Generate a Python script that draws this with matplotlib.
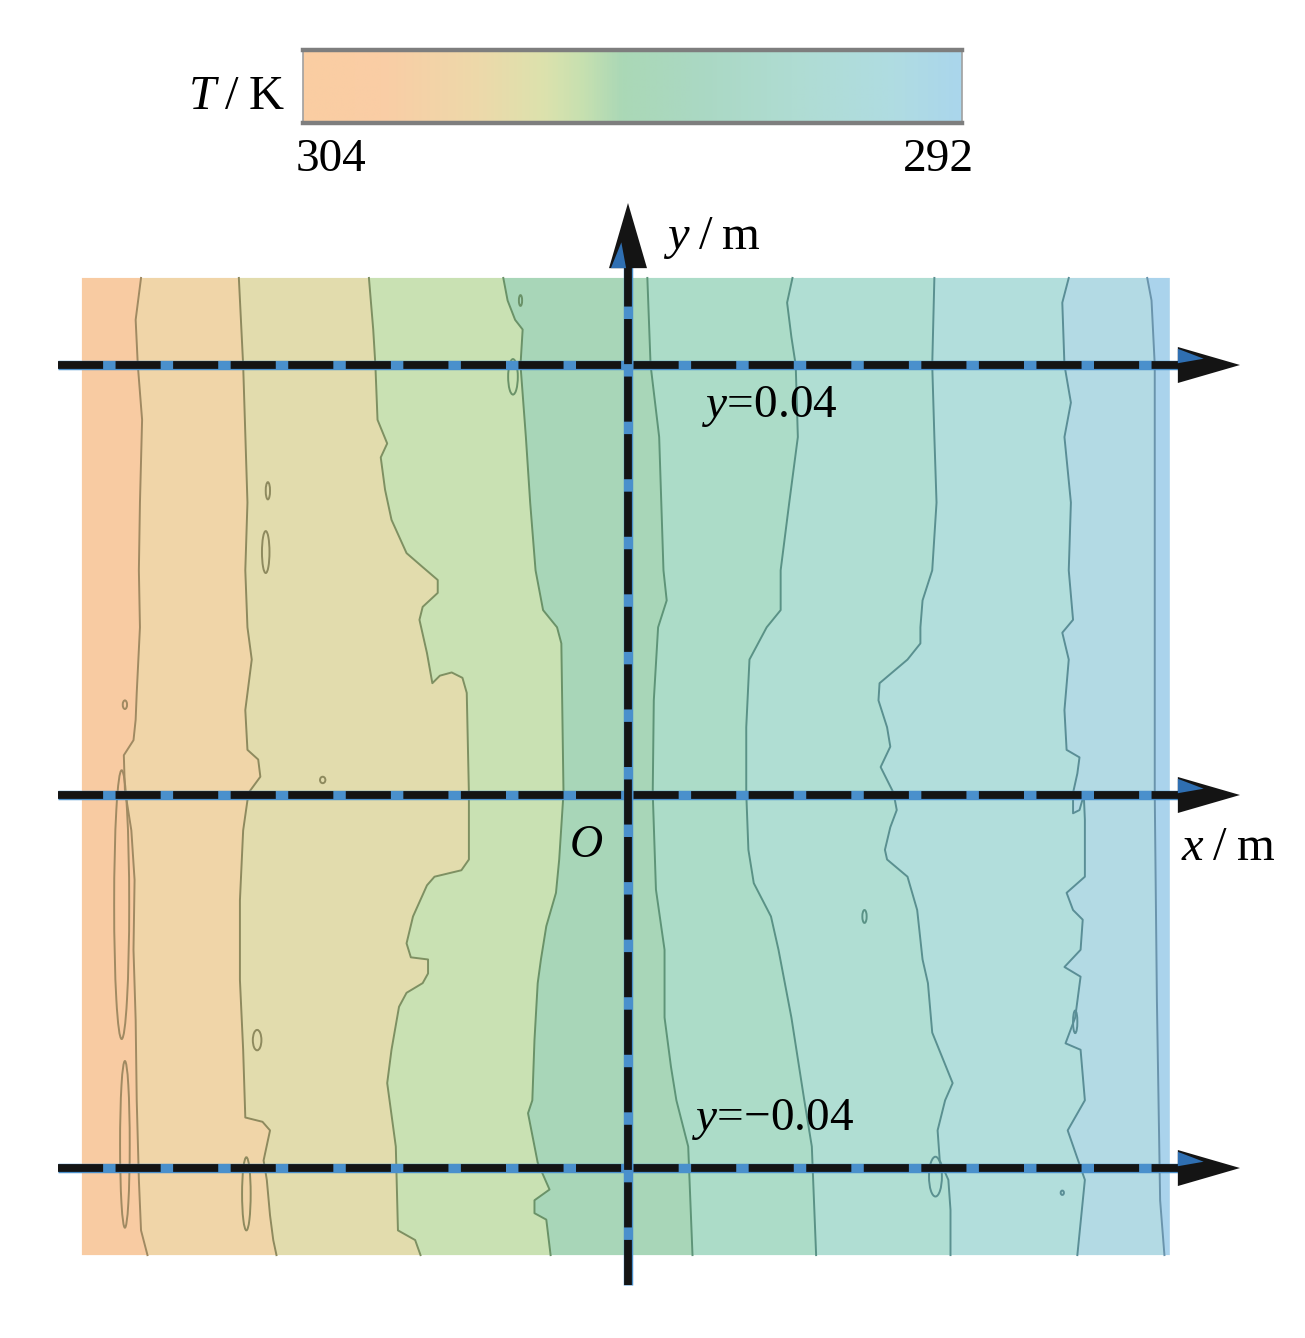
import numpy as np
import matplotlib
matplotlib.use("Agg")
import matplotlib.pyplot as plt
from matplotlib.colors import LinearSegmentedColormap, Normalize
from matplotlib.patches import Ellipse

plt.rcParams['font.family'] = ['Liberation Serif', 'DejaVu Serif']
plt.rcParams['mathtext.fontset'] = 'custom'
plt.rcParams['mathtext.rm'] = 'Liberation Serif'
plt.rcParams['mathtext.it'] = 'Liberation Serif:italic'

# ---------------- data ----------------
# colour scale T/K (left = 304 K, right = 292 K)
cbar_T = [304, 302.6, 300.8, 299.6, 298.9, 298.2, 296.9, 295.1, 293.2, 292]
cbar_colors = ['#FACDA2', '#FACDA5', '#EDD9AA', '#DCE2AD', '#C6E0B0', '#ABD8B6',
               '#AAD8C2', '#AFDCD2', '#B0DCE2', '#AAD6EC']
cbar_tick_labels = ['304', '292']

# temperature field extent (mm)
field_x = [-50.8, 50.4]
field_y = [48.1, -42.8]

# isotherm lines: y (mm) and x (mm), top to bottom
c1_y = [48.1, 44.2, 40.0, 34.9, 27.2, 20.9, 15.6, 9.5, 7.0, 5.1, 3.7, 0.5, -3.3, -7.9, -14.4, -20.9, -28.4, -35.8, -40.5, -42.8]
c1_x = [-45.3, -45.8, -45.6, -45.2, -45.4, -45.5, -45.4, -45.7, -45.8, -46.0, -46.9, -46.8, -46.2, -45.9, -46.0, -45.8, -45.7, -45.5, -45.3, -44.7]

c2_y = [48.1, 40.0, 27.2, 20.9, 15.6, 12.6, 7.9, 4.2, 3.3, 1.7, 0.2, -3.3, -9.8, -17.2, -23.7, -30.0, -30.4, -31.2, -34.0, -35.8, -39.1, -41.4, -42.8]
c2_x = [-36.2, -35.8, -35.4, -35.6, -35.4, -35.0, -35.6, -35.4, -34.4, -34.2, -35.3, -35.8, -36.1, -36.1, -35.8, -35.6, -34.0, -33.3, -33.9, -33.6, -33.3, -33.0, -32.7]

c3_y = [48.1, 43.3, 40.0, 34.9, 32.7, 31.4, 28.4, 25.6, 22.5, 21.2, 20.0, 18.8, 17.5, 16.3, 13.2, 10.4, 11.1, 11.4, 10.9, 9.5, 0.2, -6.0, -7.0, -7.6, -8.4, -11.3, -13.8, -15.1, -15.3, -16.6, -17.5, -18.4, -19.7, -23.7, -26.8, -32.7, -40.5, -41.4, -42.8]
c3_x = [-24.1, -23.7, -23.5, -23.3, -22.4, -23.0, -22.6, -22.0, -20.6, -19.1, -17.7, -17.7, -19.1, -19.4, -18.7, -18.2, -17.5, -16.4, -15.4, -15.0, -14.8, -14.8, -15.5, -18.0, -18.7, -20.0, -20.6, -20.2, -18.6, -18.6, -19.1, -20.6, -21.3, -22.0, -22.4, -21.6, -21.4, -19.8, -19.3]

c4_y = [48.1, 46.0, 44.2, 43.3, 40.0, 33.3, 27.2, 20.9, 17.2, 15.6, 14.1, 0.2, -6.0, -9.1, -12.2, -15.3, -17.5, -22.8, -28.4, -29.6, -34.2, -36.7, -37.7, -38.9, -39.5, -42.8]
c4_x = [-11.6, -11.2, -10.5, -9.8, -10.0, -9.5, -9.1, -8.6, -7.9, -6.6, -6.2, -6.0, -6.4, -6.7, -7.6, -8.1, -8.4, -8.7, -8.9, -9.3, -8.4, -7.3, -8.7, -8.7, -7.6, -7.2]

c5_y = [48.1, 40.0, 33.3, 20.9, 18.1, 15.6, 8.8, 0.2, -8.8, -14.4, -20.7, -25.3, -28.4, -32.7, -42.8]
c5_x = [1.8, 2.1, 2.9, 3.3, 3.6, 2.8, 2.4, 2.3, 2.6, 3.4, 3.4, 4.0, 4.5, 5.6, 6.0]

c6_y = [48.1, 45.8, 42.6, 40.0, 33.3, 27.2, 20.9, 17.2, 15.6, 12.6, 6.3, 0.2, -5.1, -8.2, -11.3, -14.4, -20.7, -28.4, -32.7, -42.8]
c6_x = [15.3, 14.8, 15.2, 15.6, 15.8, 15.0, 14.2, 14.2, 12.9, 11.3, 11.0, 11.0, 11.2, 11.7, 13.3, 14.0, 15.2, 16.4, 17.1, 17.5]

c7_y = [48.1, 40.0, 33.3, 27.2, 20.9, 18.1, 15.6, 14.1, 12.6, 10.4, 8.8, 6.3, 4.5, 2.6, 0.2, -1.4, -3.0, -5.1, -6.0, -7.6, -10.7, -15.3, -17.5, -22.1, -26.8, -28.4, -31.2, -34.0, -35.8, -38.6, -42.8]
c7_x = [28.5, 28.3, 28.5, 28.7, 28.3, 27.4, 27.2, 27.2, 26.0, 23.4, 23.3, 24.1, 24.4, 23.5, 24.7, 25.0, 24.4, 23.9, 24.1, 26.0, 26.9, 27.4, 27.9, 28.3, 30.2, 29.5, 28.8, 29.0, 29.8, 30.0, 30.0]

c8_y = [48.1, 45.8, 40.0, 36.5, 33.3, 27.2, 20.9, 16.3, 15.1, 12.6, 7.9, 4.2, 3.5, 2.0, 0.2, -1.7, -1.4, 0.0, -2.3, -7.6, -9.1, -10.7, -11.6, -14.4, -16.0, -16.9, -20.7, -23.1, -23.7, -28.4, -31.2, -35.8, -42.8]
c8_x = [41.0, 40.4, 40.6, 41.2, 40.6, 41.2, 41.0, 41.4, 40.4, 41.0, 40.6, 40.8, 42.0, 41.8, 41.4, 41.4, 42.0, 42.4, 42.5, 42.5, 40.8, 41.4, 42.3, 42.1, 40.6, 42.1, 41.6, 40.7, 42.1, 42.5, 40.9, 42.5, 41.8]

c9_y = [48.1, 46.0, 40.0, 18.1, 0.0, -19.1, -37.7, -42.8]
c9_x = [48.3, 48.7, 49.0, 49.0, 49.0, 49.2, 49.5, 49.9]

band_colors = ['#F8CBA2', '#F0D5A8', '#E2DCAD', '#C9E1B3', '#A8D6B8',
               '#ACDCC8', '#B0DED3', '#B2DEDC', '#B3DAE4', '#AAD3EC']
line_colors = ['#A08A62', '#8E8A5E', '#7E9062', '#6A9268', '#5E9478',
               '#5A9286', '#5A9090', '#5A8E96', '#6A94AC']

# small closed isotherms (islands): centre x, y (mm), width, height (mm), colour index
island_x = [-47.1, -46.8, -33.5, -33.7, -28.4, -34.5, -35.5, -10.7, -10.0, 22.0, 41.6, 40.4, 28.6, -46.8]
island_y = [-10.2, -32.5, 28.3, 22.6, 1.4, -22.8, -37.1, 38.9, 46.0, -11.3, -21.1, -37.0, -35.5, 8.4]
island_w = [1.4, 0.9, 0.4, 0.7, 0.5, 0.8, 0.8, 0.9, 0.3, 0.4, 0.4, 0.3, 1.2, 0.4]
island_h = [25.0, 15.5, 1.6, 3.9, 0.6, 1.9, 6.8, 3.3, 1.0, 1.2, 2.1, 0.4, 3.7, 0.8]
island_c = [0, 0, 1, 1, 1, 1, 1, 3, 3, 5, 7, 7, 6, 0]

# sampling lines (drawn position, mm) and their labels
section_y = [40.0, 0.0, -34.7]
section_labels = ['$y$=0.04', None, '$y$=\u22120.04']

# ---------------- layout ----------------
W, H = 1305, 1338
ORIGIN_PX = (628, 795)
PX_PER_MM = 10.75
MM = 1e-3  # mm -> m

fig = plt.figure(figsize=(W / 100, H / 100), dpi=100)
ax = fig.add_axes([0, 0, 1, 1])
ax.set_xlim(-ORIGIN_PX[0] / PX_PER_MM * MM, (W - ORIGIN_PX[0]) / PX_PER_MM * MM)
ax.set_ylim((ORIGIN_PX[1] - H) / PX_PER_MM * MM, ORIGIN_PX[1] / PX_PER_MM * MM)
ax.set_aspect('auto')
ax.axis('off')

cx = [c1_x, c2_x, c3_x, c4_x, c5_x, c6_x, c7_x, c8_x, c9_x]
cy = [c1_y, c2_y, c3_y, c4_y, c5_y, c6_y, c7_y, c8_y, c9_y]

left_edge_x = [field_x[0], field_x[0]]
right_edge_x = [field_x[1], field_x[1]]
edge_y = field_y
bounds_x = [left_edge_x] + cx + [right_edge_x]
bounds_y = [edge_y] + cy + [edge_y]

for i, col in enumerate(band_colors):
    lx, ly = np.asarray(bounds_x[i]), np.asarray(bounds_y[i])
    rx, ry = np.asarray(bounds_x[i + 1]), np.asarray(bounds_y[i + 1])
    px = np.concatenate([lx, rx[::-1]]) * MM
    py = np.concatenate([ly, ry[::-1]]) * MM
    ax.fill(px, py, color=col, lw=0, zorder=1)

for x, y, c in zip(cx, cy, line_colors):
    ax.plot(np.asarray(x) * MM, np.asarray(y) * MM, color=c, lw=1.4,
            solid_joinstyle='round', zorder=2)

for x, y, w, h, ci in zip(island_x, island_y, island_w, island_h, island_c):
    ax.add_patch(Ellipse((x * MM, y * MM), w * MM, h * MM, fill=False,
                         ec=line_colors[ci], lw=1.4, zorder=2))

# dashed axis / section lines
x_start = (58 - ORIGIN_PX[0]) / PX_PER_MM
x_end = (1180 - ORIGIN_PX[0]) / PX_PER_MM
x_tip = (1240 - ORIGIN_PX[0]) / PX_PER_MM
v_bot = (ORIGIN_PX[1] - 1285) / PX_PER_MM
v_end = (ORIGIN_PX[1] - 266) / PX_PER_MM
v_tip = (ORIGIN_PX[1] - 203) / PX_PER_MM
hw_h = 18 / PX_PER_MM
hw_v = 19 / PX_PER_MM
blue = '#4A90CC'

def dashed(xs, ys):
    ax.plot(np.asarray(xs) * MM, np.asarray(ys) * MM, color=blue, lw=6.8,
            solid_capstyle='butt', zorder=3)
    ax.plot(np.asarray(xs) * MM, np.asarray(ys) * MM, color='#141414', lw=5.6,
            dashes=(5.8, 1.6), dash_capstyle='butt', zorder=4)

for yv in section_y:
    dashed([x_start, x_end], [yv, yv])
    ax.fill(np.array([x_end - 0.2, x_tip, x_end - 0.2]) * MM,
            np.array([yv + hw_h, yv, yv - hw_h]) * MM, color='#141414', lw=0, zorder=5)
    ax.fill(np.array([x_end - 0.2, x_end + 2.2, x_end - 0.2]) * MM,
            np.array([yv + hw_h * 0.9, yv + hw_h * 0.35, yv + hw_h * 0.1]) * MM,
            color='#2F6FB2', lw=0, zorder=6)

dashed([0, 0], [v_bot, v_end])
ax.fill(np.array([-hw_v, 0, hw_v]) * MM, np.array([v_end - 0.2, v_tip, v_end - 0.2]) * MM,
        color='#141414', lw=0, zorder=5)
ax.fill(np.array([-hw_v * 0.9, -hw_v * 0.35, -hw_v * 0.1]) * MM,
        np.array([v_end - 0.2, v_end + 2.2, v_end - 0.2]) * MM,
        color='#2F6FB2', lw=0, zorder=6)

# ---------------- colour bar ----------------
pos = [(t - min(cbar_T)) / (max(cbar_T) - min(cbar_T)) for t in cbar_T]
cmap = LinearSegmentedColormap.from_list('tk', list(zip(pos[::-1], cbar_colors[::-1])))
cax = fig.add_axes([303 / W, 1 - 123 / H, 659 / W, 73 / H])
grad = np.linspace(max(cbar_T), min(cbar_T), 600)[None, :]
cax.imshow(grad, aspect='auto', cmap=cmap, norm=Normalize(min(cbar_T), max(cbar_T)),
           extent=[0, 1, 0, 1])
cax.set_xticks([]); cax.set_yticks([])
for s in ['top', 'bottom']:
    cax.spines[s].set_color('#7E7E7E'); cax.spines[s].set_linewidth(3.2)
for s in ['left', 'right']:
    cax.spines[s].set_color('#A0A0A0'); cax.spines[s].set_linewidth(1.2)

def ftext(px, py, s, size=34, **kw):
    fig.text(px / W, 1 - py / H, s, fontsize=size, ha='center', va='center', **kw)

ftext(236, 97, '$T$\u2009/\u2009K', size=35)
ftext(331, 160, cbar_tick_labels[0], size=34)
ftext(938, 160, cbar_tick_labels[1], size=34)
ftext(712, 238, '$y$\u2009/\u2009m', size=35)
ftext(586, 846, '$O$', size=33)
ftext(1228, 848, '$x$\u2009/\u2009m', size=35)
ftext(770, 407, section_labels[0], size=34)
ftext(773, 1119, section_labels[2], size=34)

fig.savefig('out.png', dpi=100)
